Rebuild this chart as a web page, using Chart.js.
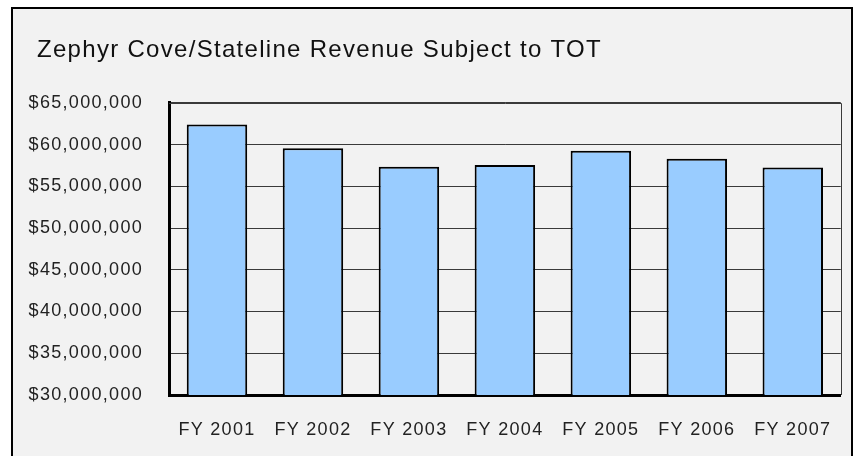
<!DOCTYPE html>
<html>
<head>
<meta charset="utf-8">
<script src="https://cdn.jsdelivr.net/npm/chart.js@4.4.0/dist/chart.umd.min.js"></script>
<style>
    body { margin: 0; background: #fff; }
    #frame {
        position: absolute; left: 11px; top: 7px;
        width: 838px; height: 470px;
        border: 2px solid #000; background: #f2f2f2;
    }
    #wrap { position: absolute; left: 0; top: 0; width: 856px; height: 456px; }
</style>
</head>
<body>
<div id="frame"></div>
<div id="wrap"><canvas id="myChart" width="856" height="456"></canvas></div>
<script>
var years = ['FY 2001', 'FY 2002', 'FY 2003', 'FY 2004', 'FY 2005', 'FY 2006', 'FY 2007'];
var revenue = [62400000, 59550000, 57350000, 57550000, 59250000, 58300000, 57250000];
var yMin = 30000000;
var yMax = 65000000;
var yStep = 5000000;

// excel text looks a bit wider than liberation sans, so space the letters out
var spacing = {
    id: 'spacing',
    beforeLayout: function (chart) { chart.ctx.letterSpacing = '1.3px'; },
    afterLayout: function (chart) {
        // let the y labels run past the left padding (title stays at 37px)
        chart.scales.y.left = 14;
    },
    beforeDraw: function (chart) { chart.ctx.letterSpacing = '1.3px'; }
};

// thin frame on the right/top of plot area
var plotBorder = {
    id: 'plotBorder',
    afterDatasetsDraw: function (chart) {
        var a = chart.chartArea, ctx = chart.ctx;
        ctx.save();
        ctx.strokeStyle = '#3a3a3a';
        ctx.lineWidth = 1;
        ctx.beginPath();
        ctx.moveTo(a.left, Math.round(a.top) + 0.5);
        ctx.lineTo(Math.round(a.right) + 0.5, Math.round(a.top) + 0.5);
        ctx.lineTo(Math.round(a.right) + 0.5, a.bottom);
        ctx.stroke();
        ctx.restore();
    }
};

var myChart = document.getElementById("myChart");
var new_chart = new Chart(myChart, {
    type: 'bar',
    data: {
        labels: years,
        datasets: [{
            label: 'Revenue',
            data: revenue,
            backgroundColor: '#99ccff',
            borderColor: '#000',
            borderWidth: 2,
            borderSkipped: 'bottom',
            categoryPercentage: 1,
            barPercentage: 0.63
        }]
    },
    options: {
        responsive: false,
        animation: false,
        layout: { padding: { left: 37, right: 9, top: 0, bottom: 0 } },
        plugins: {
            legend: { display: false },
            tooltip: { enabled: false },
            title: {
                display: true,
                text: 'Zephyr Cove/Stateline Revenue Subject to TOT',
                align: 'start',
                color: '#111',
                font: { family: 'Liberation Sans', size: 24, weight: 'normal' },
                padding: { top: 36, bottom: 38 }
            }
        },
        scales: {
            x: {
                grid: { display: false, drawTicks: false },
                border: { display: true, color: '#000', width: 3 },
                ticks: {
                    color: '#222',
                    padding: 24,
                    font: { family: 'Liberation Sans', size: 18 }
                },
                afterFit: function (scale) { scale.height = 61; }
            },
            y: {
                min: yMin,
                max: yMax,
                grid: { color: '#3a3a3a', lineWidth: 1, drawTicks: false },
                border: { display: true, color: '#000', width: 3 },
                ticks: {
                    stepSize: yStep,
                    color: '#222',
                    padding: 26,
                    font: { family: 'Liberation Sans', size: 18 },
                    callback: function (v) { return '$' + v.toLocaleString('en-US'); }
                },
                afterFit: function (scale) { scale.width = 132; }
            }
        }
    },
    plugins: [spacing, plotBorder]
});
</script>
</body>
</html>
